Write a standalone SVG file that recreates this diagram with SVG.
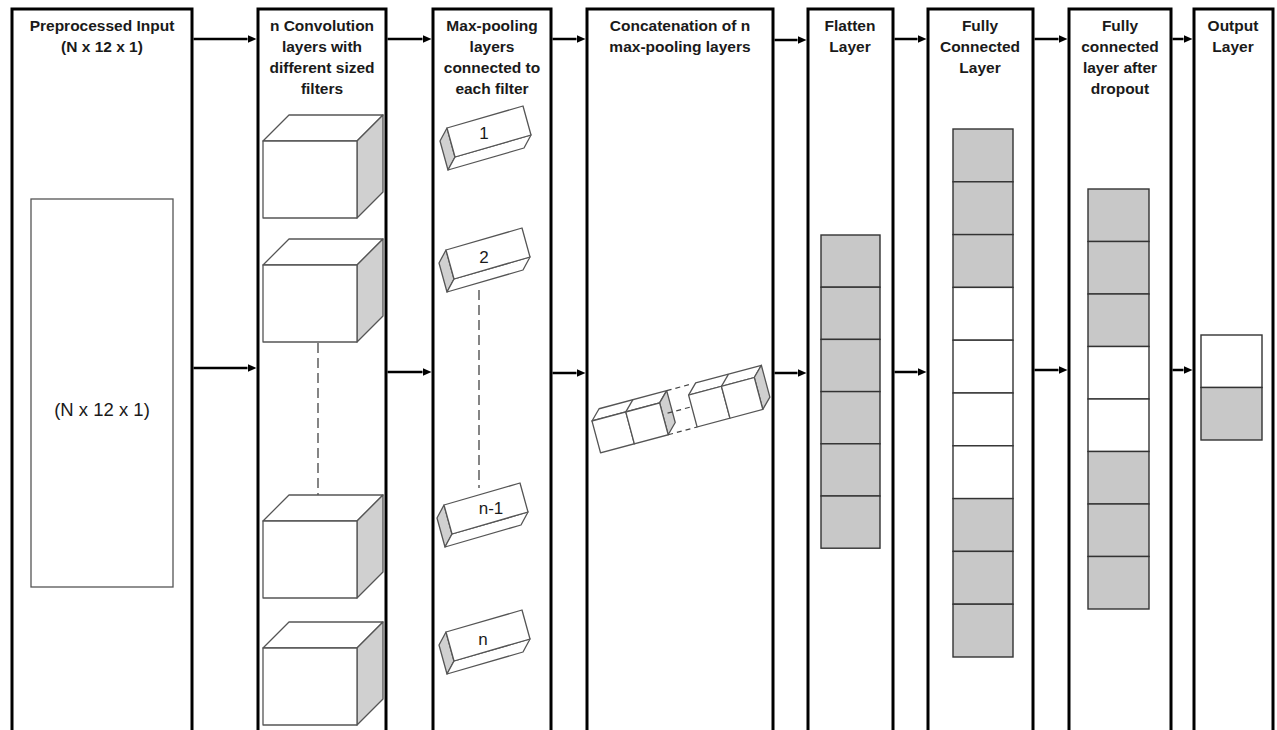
<svg xmlns="http://www.w3.org/2000/svg" width="1277" height="730" viewBox="0 0 1277 730">
<style>
.col{fill:#fff;stroke:#000;stroke-width:3}
.h{font-family:"Liberation Sans",Arial,sans-serif;font-weight:bold;font-size:15.5px;text-anchor:middle;fill:#1a1a1a}
.t{font-family:"Liberation Sans",Arial,sans-serif;font-size:18.5px;text-anchor:middle;fill:#1a1a1a}
.lb{font-family:"Liberation Sans",Arial,sans-serif;font-size:17px;text-anchor:middle;fill:#1a1a1a}
.fw{fill:#fff;stroke:#555;stroke-width:1.3;stroke-linejoin:round}
.fg{fill:#d0d0d0;stroke:#555;stroke-width:1.3;stroke-linejoin:round}
.cg{fill:#c8c8c8;stroke:#333;stroke-width:1.4}
.cw{fill:#fff;stroke:#333;stroke-width:1.4}
.ln{stroke:#555;stroke-width:1.3;fill:none}
.dash{stroke:#444;stroke-width:1.3;stroke-dasharray:10 5;fill:none}
.dash2{stroke:#444;stroke-width:1.2;stroke-dasharray:5 4;fill:none}
.arr{stroke:#000;stroke-width:2.5;fill:none;marker-end:url(#ah)}
</style>
<defs>
<marker id="ah" markerWidth="9" markerHeight="8" refX="0" refY="4" orient="auto" markerUnits="userSpaceOnUse"><path d="M0,0 L9,4 L0,8 z" fill="#000"/></marker>
<g id="cube">
<polygon class="fw" points="0,0 26,-26 120,-26 94,0"/>
<polygon class="fg" points="94,0 120,-26 120,51 94,77"/>
<rect class="fw" x="0" y="0" width="94" height="77"/>
</g>
<g id="blk">
<polygon class="fg" points="-7,13 0,0 8,29 1,42"/>
<polygon class="fw" points="8,29 84,7 77,20 1,42"/>
<polygon class="fw" points="0,0 76,-22 84,7 8,29"/>
</g>
</defs>

<g id="n1-input">
<rect class="col" x="12" y="9" width="180" height="730"/>
<text class="h" x="102" y="31">Preprocessed Input</text>
<text class="h" x="102" y="52">(N x 12 x 1)</text>
<rect x="31" y="199" width="142" height="388" fill="#fff" stroke="#555" stroke-width="1.3"/>
<text class="t" x="102" y="416">(N x 12 x 1)</text>
</g>

<g id="n2-conv">
<rect class="col" x="258" y="9" width="128" height="730"/>
<text class="h" x="322" y="31">n Convolution</text>
<text class="h" x="322" y="52">layers with</text>
<text class="h" x="322" y="73">different sized</text>
<text class="h" x="322" y="94">filters</text>
<use href="#cube" x="263" y="141"/>
<use href="#cube" x="263" y="265"/>
<line class="dash" x1="318" y1="343" x2="318" y2="495"/>
<use href="#cube" x="263" y="521"/>
<use href="#cube" x="263" y="648"/>
</g>

<g id="n3-maxpool">
<rect class="col" x="433" y="9" width="118" height="730"/>
<text class="h" x="492" y="31">Max-pooling</text>
<text class="h" x="492" y="52">layers</text>
<text class="h" x="492" y="73">connected to</text>
<text class="h" x="492" y="94">each filter</text>
<use href="#blk" x="447" y="128"/>
<text class="lb" x="484" y="139">1</text>
<use href="#blk" x="446" y="250"/>
<text class="lb" x="484" y="263">2</text>
<line class="dash" x1="479" y1="290" x2="479" y2="488"/>
<use href="#blk" x="444" y="505"/>
<text class="lb" x="491" y="514">n-1</text>
<use href="#blk" x="446" y="632"/>
<text class="lb" x="483" y="645">n</text>
</g>

<g id="n4-concat">
<rect class="col" x="587" y="9" width="186" height="730"/>
<text class="h" x="680" y="31">Concatenation of n</text>
<text class="h" x="680" y="52">max-pooling layers</text>
<g transform="translate(592,421) rotate(-15)">
<polygon class="fw" points="0,0 10,-10 80,-10 70,0"/>
<line class="ln" x1="35" y1="0" x2="45" y2="-10"/>
<polygon class="fg" points="70,0 80,-10 80,23 70,33"/>
<rect class="fw" x="0" y="0" width="35" height="33"/>
<rect class="fw" x="35" y="0" width="35" height="33"/>
<polygon class="fw" points="100,0 110,-10 178,-10 168,0"/>
<line class="ln" x1="134" y1="0" x2="144" y2="-10"/>
<polygon class="fg" points="168,0 178,-10 178,23 168,33"/>
<rect class="fw" x="100" y="0" width="34" height="33"/>
<rect class="fw" x="134" y="0" width="34" height="33"/>
<line class="dash2" x1="80" y1="-10" x2="106" y2="-10"/>
<line class="dash2" x1="75" y1="12" x2="100" y2="12"/>
<line class="dash2" x1="70" y1="33" x2="100" y2="33"/>
</g>
</g>

<g id="n5-flatten">
<rect class="col" x="808" y="9" width="85" height="730"/>
<text class="h" x="850" y="31">Flatten</text>
<text class="h" x="850" y="52">Layer</text>
<rect class="cg" x="821" y="235" width="59" height="52.2"/>
<rect class="cg" x="821" y="287.2" width="59" height="52.2"/>
<rect class="cg" x="821" y="339.4" width="59" height="52.2"/>
<rect class="cg" x="821" y="391.6" width="59" height="52.2"/>
<rect class="cg" x="821" y="443.8" width="59" height="52.2"/>
<rect class="cg" x="821" y="496" width="59" height="52.2"/>
</g>

<g id="n6-fc">
<rect class="col" x="928" y="9" width="105" height="730"/>
<text class="h" x="980" y="31">Fully</text>
<text class="h" x="980" y="52">Connected</text>
<text class="h" x="980" y="73">Layer</text>
<rect class="cg" x="953" y="129" width="60" height="52.8"/>
<rect class="cg" x="953" y="181.8" width="60" height="52.8"/>
<rect class="cg" x="953" y="234.6" width="60" height="52.8"/>
<rect class="cw" x="953" y="287.4" width="60" height="52.8"/>
<rect class="cw" x="953" y="340.2" width="60" height="52.8"/>
<rect class="cw" x="953" y="393" width="60" height="52.8"/>
<rect class="cw" x="953" y="445.8" width="60" height="52.8"/>
<rect class="cg" x="953" y="498.6" width="60" height="52.8"/>
<rect class="cg" x="953" y="551.4" width="60" height="52.8"/>
<rect class="cg" x="953" y="604.2" width="60" height="52.8"/>
</g>

<g id="n7-dropout">
<rect class="col" x="1069" y="9" width="102" height="730"/>
<text class="h" x="1120" y="31">Fully</text>
<text class="h" x="1120" y="52">connected</text>
<text class="h" x="1120" y="73">layer after</text>
<text class="h" x="1120" y="94">dropout</text>
<rect class="cg" x="1088" y="189" width="61" height="52.5"/>
<rect class="cg" x="1088" y="241.5" width="61" height="52.5"/>
<rect class="cg" x="1088" y="294" width="61" height="52.5"/>
<rect class="cw" x="1088" y="346.5" width="61" height="52.5"/>
<rect class="cw" x="1088" y="399" width="61" height="52.5"/>
<rect class="cg" x="1088" y="451.5" width="61" height="52.5"/>
<rect class="cg" x="1088" y="504" width="61" height="52.5"/>
<rect class="cg" x="1088" y="556.5" width="61" height="52.5"/>
</g>

<g id="n8-output">
<rect class="col" x="1194" y="9" width="79" height="730"/>
<text class="h" x="1233" y="31">Output</text>
<text class="h" x="1233" y="52">Layer</text>
<rect class="cw" x="1201" y="335" width="61" height="52.5"/>
<rect class="cg" x="1201" y="387.5" width="61" height="52.5"/>
</g>

<g id="connectors">
<line class="arr" x1="193.5" y1="39" x2="247.5" y2="39"/>
<line class="arr" x1="387.5" y1="39" x2="422.5" y2="39"/>
<line class="arr" x1="552.5" y1="39" x2="576.5" y2="39"/>
<line class="arr" x1="774.5" y1="40" x2="797.5" y2="40"/>
<line class="arr" x1="894.5" y1="39" x2="917.5" y2="39"/>
<line class="arr" x1="1034.5" y1="39" x2="1058.5" y2="39"/>
<line class="arr" x1="1172.5" y1="39" x2="1183.5" y2="39"/>
<line class="arr" x1="193.5" y1="368" x2="247.5" y2="368"/>
<line class="arr" x1="387.5" y1="372" x2="422.5" y2="372"/>
<line class="arr" x1="552.5" y1="373" x2="576.5" y2="373"/>
<line class="arr" x1="774.5" y1="373" x2="797.5" y2="373"/>
<line class="arr" x1="894.5" y1="372" x2="917.5" y2="372"/>
<line class="arr" x1="1034.5" y1="370" x2="1058.5" y2="370"/>
<line class="arr" x1="1172.5" y1="370" x2="1183.5" y2="370"/>
</g>
</svg>
